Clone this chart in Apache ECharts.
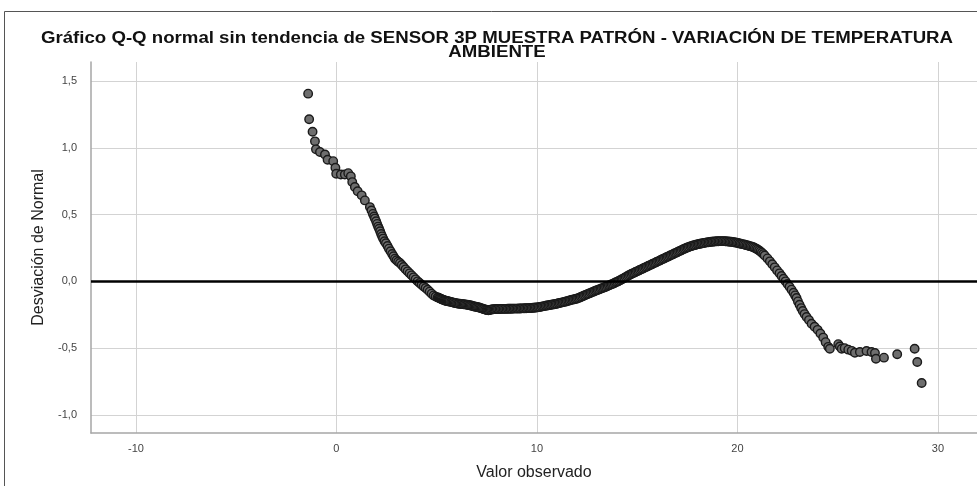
<!DOCTYPE html>
<html>
<head>
<meta charset="utf-8">
<script src="https://cdn.jsdelivr.net/npm/echarts@6/dist/echarts.min.js"></script>
<style>
  html, body { margin: 0; padding: 0; background: #fff; }
  #chart { width: 977px; height: 486px; }
</style>
</head>
<body>
<div id="chart"></div>
<script>
const observado = [
  -1.41, -1.36, -1.19, -1.07, -1.02, -0.82, -0.57, -0.44, -0.16, -0.05, -0.01, 0.22, 0.42, 0.59, 0.72, 0.79, 0.92, 1.06, 1.26, 1.42,
  1.67, 1.75, 1.82, 1.88, 1.92, 1.98, 2.03, 2.08, 2.13, 2.18, 2.23, 2.28, 2.33, 2.40, 2.47, 2.55, 2.62, 2.70, 2.78, 2.85,
  2.92, 3.00, 3.08, 3.17, 3.26, 3.35, 3.45, 3.55, 3.65, 3.75, 3.85, 3.95, 4.05, 4.15, 4.25, 4.35, 4.45, 4.55, 4.65, 4.75,
  4.85, 4.95, 5.05, 5.15, 5.25, 5.35, 5.45, 5.55, 5.65, 5.78, 5.90, 6.02, 6.15, 6.28, 6.40, 6.52, 6.64, 6.76, 6.88, 7.00,
  7.12, 7.24, 7.36, 7.48, 7.58, 7.70, 7.82, 7.94, 8.06, 8.20, 8.34, 8.48, 8.62, 8.76, 8.90, 9.04, 9.18, 9.32, 9.46, 9.60,
  9.74, 9.88, 10.02, 10.16, 10.30, 10.44, 10.58, 10.72, 10.86, 11.00, 11.14, 11.28, 11.42, 11.56, 11.70, 11.84, 11.98, 12.12, 12.26, 12.40,
  12.54, 12.68, 12.82, 12.96, 13.10, 13.24, 13.38, 13.52, 13.66, 13.80, 13.94, 14.08, 14.22, 14.36, 14.50, 14.64, 14.78, 14.92, 15.06, 15.20,
  15.34, 15.48, 15.62, 15.76, 15.90, 16.04, 16.18, 16.32, 16.46, 16.60, 16.74, 16.88, 17.02, 17.16, 17.30, 17.44, 17.58, 17.72, 17.86, 18.00,
  18.14, 18.28, 18.42, 18.56, 18.70, 18.84, 18.98, 19.12, 19.26, 19.40, 19.54, 19.68, 19.82, 19.96, 20.10, 20.24, 20.38, 20.52, 20.66, 20.80,
  20.94, 21.08, 21.22, 21.36, 21.50, 21.62, 21.74, 21.86, 21.98, 22.10, 22.20, 22.30, 22.40, 22.50, 22.60, 22.70, 22.80, 22.88, 22.95, 23.02,
  23.10, 23.18, 23.26, 23.35, 23.45, 23.57, 23.70, 23.85, 24.00, 24.14, 24.28, 24.40, 24.53,
  24.61, 25.03, 25.11, 25.20, 25.35, 25.53, 25.70, 25.86, 26.11, 26.44, 26.69, 26.86, 26.91, 27.31, 27.97, 28.84, 28.97, 29.19
];
const desviacion = [
  1.405, 1.213, 1.12, 1.048, 0.988, 0.968, 0.95, 0.91, 0.90, 0.85, 0.806, 0.80, 0.80, 0.81, 0.786, 0.743, 0.706, 0.674, 0.644, 0.606,
  0.556, 0.53, 0.505, 0.485, 0.47, 0.45, 0.43, 0.41, 0.394, 0.375, 0.355, 0.337, 0.32, 0.30, 0.285, 0.265, 0.245, 0.225, 0.205, 0.188,
  0.17, 0.158, 0.147, 0.137, 0.122, 0.107, 0.09, 0.075, 0.06, 0.045, 0.03, 0.015, 0.0, -0.012, -0.025, -0.038, -0.05, -0.063, -0.077, -0.092,
  -0.105, -0.114, -0.12, -0.127, -0.133, -0.14, -0.145, -0.148, -0.152, -0.157, -0.161, -0.165, -0.168, -0.17, -0.172, -0.175, -0.179, -0.183, -0.188, -0.192,
  -0.196, -0.202, -0.208, -0.214, -0.216, -0.212, -0.209, -0.208, -0.207, -0.207, -0.206, -0.206, -0.205, -0.205, -0.204, -0.204, -0.203, -0.202, -0.201, -0.20,
  -0.199, -0.197, -0.195, -0.191, -0.187, -0.183, -0.179, -0.175, -0.171, -0.167, -0.162, -0.157, -0.152, -0.146, -0.14, -0.135, -0.13, -0.122, -0.113, -0.104,
  -0.095, -0.086, -0.077, -0.068, -0.06, -0.052, -0.044, -0.035, -0.026, -0.017, -0.007, 0.003, 0.014, 0.026, 0.038, 0.05, 0.06, 0.07, 0.08, 0.09,
  0.10, 0.11, 0.12, 0.13, 0.14, 0.15, 0.16, 0.17, 0.18, 0.19, 0.20, 0.21, 0.22, 0.23, 0.24, 0.25, 0.258, 0.265, 0.271, 0.277,
  0.282, 0.286, 0.29, 0.293, 0.296, 0.298, 0.30, 0.301, 0.301, 0.30, 0.298, 0.296, 0.293, 0.289, 0.284, 0.279, 0.274, 0.268, 0.262, 0.255,
  0.244, 0.231, 0.214, 0.194, 0.172, 0.15, 0.128, 0.105, 0.082, 0.06, 0.04, 0.02, 0.0, -0.02, -0.04, -0.062, -0.085, -0.105, -0.125, -0.15,
  -0.175, -0.20, -0.222, -0.245, -0.267, -0.29, -0.317, -0.34, -0.363, -0.39, -0.421, -0.455, -0.49,
  -0.504, -0.47, -0.487, -0.504, -0.50, -0.511, -0.52, -0.534, -0.529, -0.521, -0.529, -0.536, -0.579, -0.571, -0.546, -0.504, -0.604, -0.761
];
// más lecturas en la zona densa de la banda (x entre 5 y 21,3)
const observadoDenso = [
  5.10, 5.20, 5.30, 5.40, 5.50, 5.60, 5.72, 5.84, 5.96, 6.08,
  6.22, 6.34, 6.46, 6.58, 6.70, 6.82, 6.94, 7.06, 7.18, 7.30,
  7.42, 7.53, 7.64, 7.76, 7.88, 8.00, 8.13, 8.27, 8.41, 8.55,
  8.69, 8.83, 8.97, 9.11, 9.25, 9.39, 9.53, 9.67, 9.81, 9.95,
  10.09, 10.23, 10.37, 10.51, 10.65, 10.79, 10.93, 11.07, 11.21, 11.35,
  11.49, 11.63, 11.77, 11.91, 12.05, 12.19, 12.33, 12.47, 12.61, 12.75,
  12.89, 13.03, 13.17, 13.31, 13.45, 13.59, 13.73, 13.87, 14.01, 14.15,
  14.29, 14.43, 14.57, 14.71, 14.85, 14.99, 15.13, 15.27, 15.41, 15.55,
  15.69, 15.83, 15.97, 16.11, 16.25, 16.39, 16.53, 16.67, 16.81, 16.95,
  17.09, 17.23, 17.37, 17.51, 17.65, 17.79, 17.93, 18.07, 18.21, 18.35,
  18.49, 18.63, 18.77, 18.91, 19.05, 19.19, 19.33, 19.47, 19.61, 19.75,
  19.89, 20.03, 20.17, 20.31, 20.45, 20.59, 20.73, 20.87, 21.01, 21.15,
  21.29
];
const desviacionDenso = [
  -0.123, -0.130, -0.137, -0.143, -0.147, -0.150, -0.155, -0.159, -0.163, -0.167,
  -0.169, -0.171, -0.174, -0.177, -0.181, -0.186, -0.190, -0.194, -0.199, -0.205,
  -0.211, -0.215, -0.214, -0.210, -0.208, -0.207, -0.207, -0.206, -0.206, -0.205,
  -0.205, -0.204, -0.204, -0.203, -0.202, -0.201, -0.200, -0.199, -0.198, -0.196,
  -0.193, -0.189, -0.185, -0.181, -0.177, -0.173, -0.169, -0.164, -0.159, -0.154,
  -0.149, -0.143, -0.137, -0.132, -0.126, -0.117, -0.108, -0.099, -0.090, -0.081,
  -0.072, -0.064, -0.056, -0.048, -0.040, -0.030, -0.021, -0.012, -0.002, 0.008,
  0.020, 0.032, 0.044, 0.055, 0.065, 0.075, 0.085, 0.095, 0.105, 0.115,
  0.125, 0.135, 0.145, 0.155, 0.165, 0.175, 0.185, 0.195, 0.205, 0.215,
  0.225, 0.235, 0.245, 0.254, 0.262, 0.268, 0.274, 0.280, 0.284, 0.288,
  0.292, 0.295, 0.297, 0.299, 0.300, 0.301, 0.301, 0.299, 0.297, 0.295,
  0.291, 0.287, 0.282, 0.277, 0.271, 0.265, 0.259, 0.250, 0.238, 0.223,
  0.204
];
const xTicks = [-10, 0, 10, 20, 30];
const yTicks = [-1.0, -0.5, 0.0, 0.5, 1.0, 1.5];

// ordenados por valor observado, como los dibuja SPSS
const puntos = observado.map((v, i) => [v, desviacion[i]])
  .concat(observadoDenso.map((v, i) => [v, desviacionDenso[i]]))
  .sort((a, b) => a[0] - b[0]);

const chart = echarts.init(document.getElementById('chart'));
chart.setOption({
  backgroundColor: '#fff',
  animation: false,
  graphic: [{
    type: 'rect',
    shape: {x: 4.5, y: 11.5, width: 1100, height: 600},
    style: {fill: 'none', stroke: '#555', lineWidth: 1},
    silent: true
  }, {
    // título ensanchado como en la imagen original
    type: 'text',
    x: 497,
    y: 32,
    scaleX: 1.165,
    silent: true,
    style: {
      text: 'Gráfico Q-Q normal sin tendencia de SENSOR 3P MUESTRA PATRÓN - VARIACIÓN DE TEMPERATURA\nAMBIENTE',
      font: 'bold 16px "Liberation Sans", Arial, sans-serif',
      align: 'center',
      verticalAlign: 'top',
      lineHeight: 14,
      fill: '#111'
    }
  }],
  grid: {left: 91, top: 62, right: 0, bottom: 53},
  xAxis: {
    type: 'value',
    min: -12.24,
    max: 31.95,
    name: 'Valor observado',
    nameLocation: 'middle',
    nameGap: 32,
    nameTextStyle: {fontFamily: 'Liberation Sans, Arial, sans-serif', fontSize: 16, color: '#222'},
    axisLine: {show: true, onZero: false, lineStyle: {color: '#a6a6a6', width: 1.5}},
    axisTick: {show: false, customValues: xTicks},
    axisLabel: {
      customValues: xTicks,
      margin: 10,
      fontFamily: 'Liberation Sans, Arial, sans-serif',
      fontSize: 11,
      color: '#444'
    },
    splitLine: {show: true, lineStyle: {color: '#d3d3d3', width: 1}}
  },
  yAxis: {
    type: 'value',
    min: -1.135,
    max: 1.642,
    name: 'Desviación de Normal',
    nameLocation: 'middle',
    nameGap: 44,
    nameTextStyle: {fontFamily: 'Liberation Sans, Arial, sans-serif', fontSize: 16, color: '#222'},
    axisLine: {show: true, onZero: false, lineStyle: {color: '#a6a6a6', width: 1.5}},
    axisTick: {show: false, customValues: yTicks},
    axisLabel: {
      customValues: yTicks,
      margin: 14,
      fontFamily: 'Liberation Sans, Arial, sans-serif',
      fontSize: 11,
      color: '#444',
      formatter: v => v.toFixed(1).replace('.', ',')
    },
    splitLine: {show: true, lineStyle: {color: '#d3d3d3', width: 1}}
  },
  series: [{
    type: 'scatter',
    data: puntos,
    symbolSize: 8.5,
    itemStyle: {color: '#6e6e6e', borderColor: '#1a1a1a', borderWidth: 1.4, opacity: 1},
    markLine: {
      silent: true,
      symbol: 'none',
      label: {show: false},
      lineStyle: {color: '#000', width: 2.5, type: 'solid'},
      data: [{yAxis: 0}]
    }
  }]
});
</script>
</body>
</html>
